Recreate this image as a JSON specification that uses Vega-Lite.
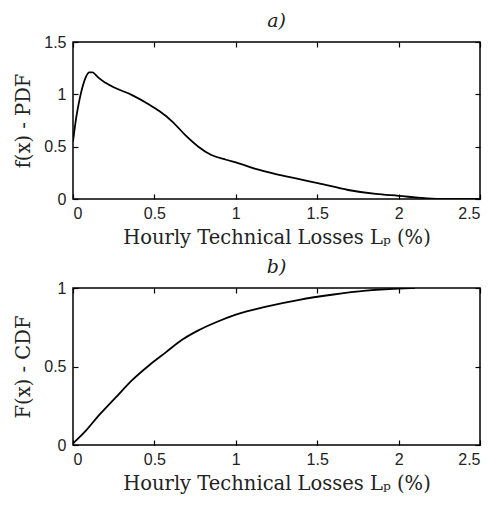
{
  "$schema": "https://vega.github.io/schema/vega-lite/v6.json",
  "background": "white",
  "padding": {"left": 13, "top": 11, "right": 10, "bottom": 5},
  "spacing": 9,
  "config": {
    "view": {"stroke": "black", "strokeWidth": 1.5},
    "axis": {
      "grid": false,
      "domain": false,
      "tickColor": "black",
      "tickSize": -5,
      "tickWidth": 1.2,
      "labelFont": "Liberation Sans",
      "labelFontSize": 16,
      "labelColor": "#222",
      "titleFont": "DejaVu Serif",
      "titleFontSize": 19.5,
      "titleFontWeight": "normal",
      "titleColor": "#222"
    },
    "axisX": {"labelPadding": 11},
    "axisY": {"labelPadding": 12},
    "title": {"font": "DejaVu Serif", "fontSize": 19, "fontStyle": "italic", "fontWeight": "normal", "color": "#222", "offset": 3}
  },
  "datasets": {
    "pdf": [
      {"x": 0.0, "y": 0.55},
      {"x": 0.02, "y": 0.78},
      {"x": 0.04, "y": 0.95},
      {"x": 0.06, "y": 1.08},
      {"x": 0.08, "y": 1.17},
      {"x": 0.1, "y": 1.21},
      {"x": 0.12, "y": 1.21},
      {"x": 0.14, "y": 1.185},
      {"x": 0.16, "y": 1.155},
      {"x": 0.2, "y": 1.11},
      {"x": 0.26, "y": 1.06},
      {"x": 0.36, "y": 0.995},
      {"x": 0.47, "y": 0.9},
      {"x": 0.53, "y": 0.84},
      {"x": 0.61, "y": 0.74},
      {"x": 0.69, "y": 0.61},
      {"x": 0.77, "y": 0.5},
      {"x": 0.85, "y": 0.42},
      {"x": 0.94, "y": 0.375},
      {"x": 1.0, "y": 0.35},
      {"x": 1.14, "y": 0.28},
      {"x": 1.24, "y": 0.24},
      {"x": 1.39, "y": 0.19},
      {"x": 1.51, "y": 0.15},
      {"x": 1.69, "y": 0.086},
      {"x": 1.86, "y": 0.048},
      {"x": 2.0, "y": 0.03},
      {"x": 2.16, "y": 0.008},
      {"x": 2.27, "y": 0.0},
      {"x": 2.5, "y": 0.0}
    ],
    "cdf": [
      {"x": 0.0, "y": 0.01},
      {"x": 0.078, "y": 0.09},
      {"x": 0.16, "y": 0.19},
      {"x": 0.26, "y": 0.3},
      {"x": 0.36, "y": 0.41},
      {"x": 0.47, "y": 0.51},
      {"x": 0.57, "y": 0.59},
      {"x": 0.67, "y": 0.67},
      {"x": 0.77, "y": 0.73},
      {"x": 0.875, "y": 0.78},
      {"x": 1.0, "y": 0.83},
      {"x": 1.18, "y": 0.88},
      {"x": 1.39, "y": 0.925},
      {"x": 1.59, "y": 0.957},
      {"x": 1.8, "y": 0.983},
      {"x": 2.0, "y": 0.996},
      {"x": 2.1, "y": 1.0}
    ]
  },
  "vconcat": [
    {
      "width": 407,
      "height": 157,
      "title": "a)",
      "data": {"name": "pdf"},
      "resolve": {"axis": {"x": "independent", "y": "independent"}},
      "layer": [
        {
          "mark": {"type": "line", "color": "black", "strokeWidth": 1.8, "clip": true, "interpolate": "monotone"},
          "encoding": {
            "x": {"field": "x", "type": "quantitative", "scale": {"domain": [0, 2.5], "nice": false},
                  "axis": {"values": [0, 0.5, 1, 1.5, 2, 2.5], "format": "~g", "title": "Hourly Technical Losses Lₚ (%)", "titlePadding": 7}},
            "y": {"field": "y", "type": "quantitative", "scale": {"domain": [0, 1.5], "nice": false},
                  "axis": {"values": [0, 0.5, 1, 1.5], "format": "~g", "title": "f(x) - PDF", "titlePadding": 10}}
          }
        },
        {
          "mark": {"type": "line", "opacity": 0},
          "encoding": {
            "x": {"field": "x", "type": "quantitative", "axis": {"orient": "top", "values": [0, 0.5, 1, 1.5, 2, 2.5], "labels": false, "title": null}},
            "y": {"field": "y", "type": "quantitative", "axis": {"orient": "right", "values": [0, 0.5, 1, 1.5], "labels": false, "title": null}}
          }
        }
      ]
    },
    {
      "width": 407,
      "height": 157,
      "title": "b)",
      "data": {"name": "cdf"},
      "resolve": {"axis": {"x": "independent", "y": "independent"}},
      "layer": [
        {
          "mark": {"type": "line", "color": "black", "strokeWidth": 1.8, "clip": true, "interpolate": "monotone"},
          "encoding": {
            "x": {"field": "x", "type": "quantitative", "scale": {"domain": [0, 2.5], "nice": false},
                  "axis": {"values": [0, 0.5, 1, 1.5, 2, 2.5], "format": "~g", "title": "Hourly Technical Losses Lₚ (%)", "titlePadding": 7}},
            "y": {"field": "y", "type": "quantitative", "scale": {"domain": [0, 1], "nice": false},
                  "axis": {"values": [0, 0.5, 1], "format": "~g", "title": "F(x) - CDF", "titlePadding": 10}}
          }
        },
        {
          "mark": {"type": "line", "opacity": 0},
          "encoding": {
            "x": {"field": "x", "type": "quantitative", "axis": {"orient": "top", "values": [0, 0.5, 1, 1.5, 2, 2.5], "labels": false, "title": null}},
            "y": {"field": "y", "type": "quantitative", "axis": {"orient": "right", "values": [0, 0.5, 1], "labels": false, "title": null}}
          }
        }
      ]
    }
  ]
}
